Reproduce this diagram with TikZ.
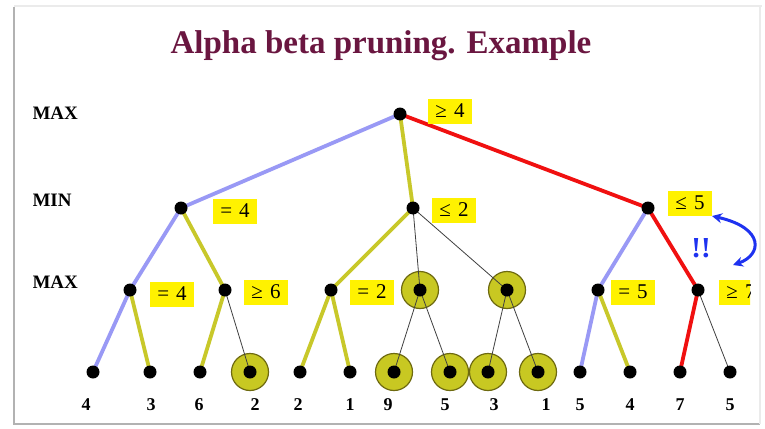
\documentclass[tikz,border=0pt]{standalone}
\usepackage{fontspec}
\setmainfont{Liberation Serif}
\usetikzlibrary{arrows.meta}
\definecolor{eblue}{HTML}{9999F5}
\definecolor{eyel}{HTML}{C8C82A}
\definecolor{ered}{HTML}{F01010}
\definecolor{ringfill}{HTML}{C8C822}
\definecolor{ringdraw}{HTML}{6E6A10}
\definecolor{titlecol}{HTML}{6A1640}
\definecolor{arrblue}{HTML}{1E32F0}
\pgfdeclarelayer{back}
\pgfdeclarelayer{rings}
\pgfdeclarelayer{edges}
\pgfsetlayers{back,rings,edges,main}
\tikzset{
  dot/.style={circle,fill=black,inner sep=0pt,minimum size=13pt},
  ring/.style={circle,fill=ringfill,draw=ringdraw,line width=1.2pt,inner sep=0pt,minimum size=37pt},
  valbox/.style={fill=yellow,inner xsep=5pt,inner ysep=0pt,minimum height=25pt,minimum width=44pt,font=\fontsize{21}{21}\selectfont},
  lvl/.style={anchor=west,font=\fontsize{19}{19}\selectfont\bfseries},
  leafnum/.style={font=\fontsize{18}{18}\selectfont\bfseries},
  be/.style={draw=eblue,line width=3.8pt},
  ye/.style={draw=eyel,line width=3.8pt},
  re/.style={draw=ered,line width=3.8pt},
  te/.style={draw=black!75,line width=0.8pt}
}
\begin{document}
\begin{tikzpicture}[x=1pt,y=-1pt]
\useasboundingbox (0,0) rectangle (765,428);
% slide frame
\begin{pgfonlayer}{back}
\fill[white] (0,0) rectangle (765,428);
\draw[black!8,line width=2pt] (14,6) -- (762,6);
\draw[black!30,line width=2.5pt] (14,7) -- (14,424) -- (760,424);
\draw[black!8,line width=1.5pt] (760,7) -- (760,424);
\end{pgfonlayer}
% title
\node[font=\fontsize{33}{33}\selectfont\bfseries,text=titlecol] (title) at (381,46) {Alpha beta pruning. Example};
% level labels
\begin{scope}
\clip (33,0) rectangle (200,428);
\node[lvl] (lmax1) at (29,113) {MAX};
\node[lvl] (lmin) at (29,200) {MIN};
\node[lvl] (lmax2) at (29,282) {MAX};
\end{scope}
% internal nodes
\node[dot] (r) at (400,114) {};
\node[dot] (a) at (181,208) {};
\node[dot] (b) at (413,208) {};
\node[dot] (c) at (648,208) {};
\node[dot] (a1) at (130,290) {};
\node[dot] (a2) at (225,290) {};
\node[dot] (b1) at (331,290) {};
\node[dot] (b2) at (420,290) {};
\node[dot] (b3) at (507,290) {};
\node[dot] (c1) at (598,290) {};
\node[dot] (c2) at (698,290) {};
% leaves
\node[dot] (l1) at (93,372) {};
\node[dot] (l2) at (150,372) {};
\node[dot] (l3) at (200,372) {};
\node[dot] (l4) at (250,372) {};
\node[dot] (l5) at (300,372) {};
\node[dot] (l6) at (350,372) {};
\node[dot] (l7) at (394,372) {};
\node[dot] (l8) at (450,372) {};
\node[dot] (l9) at (488,372) {};
\node[dot] (l10) at (538,372) {};
\node[dot] (l11) at (580,372) {};
\node[dot] (l12) at (630,372) {};
\node[dot] (l13) at (680,372) {};
\node[dot] (l14) at (730,372) {};
% rings
\begin{pgfonlayer}{rings}
\node[ring] (rb2) at (b2) {};
\node[ring] (rb3) at (b3) {};
\node[ring] (rl4) at (l4) {};
\node[ring] (rl7) at (l7) {};
\node[ring] (rl8) at (l8) {};
\node[ring] (rl9) at (l9) {};
\node[ring] (rl10) at (l10) {};
\end{pgfonlayer}
% edges
\begin{pgfonlayer}{edges}
\path[be] (r.center) -- (a.center);
\path[ye] (r.center) -- (b.center);
\path[re] (r.center) -- (c.center);
\path[be] (a.center) -- (a1.center);
\path[ye] (a.center) -- (a2.center);
\path[be] (a1.center) -- (l1.center);
\path[ye] (a1.center) -- (l2.center);
\path[ye] (a2.center) -- (l3.center);
\path[te] (a2.center) -- (l4.center);
\path[ye] (b.center) -- (b1.center);
\path[te] (b.center) -- (b2.center);
\path[te] (b.center) -- (b3.center);
\path[ye] (b1.center) -- (l5.center);
\path[ye] (b1.center) -- (l6.center);
\path[te] (b2.center) -- (l7.center);
\path[te] (b2.center) -- (l8.center);
\path[te] (b3.center) -- (l9.center);
\path[te] (b3.center) -- (l10.center);
\path[be] (c.center) -- (c1.center);
\path[re] (c.center) -- (c2.center);
\path[be] (c1.center) -- (l11.center);
\path[ye] (c1.center) -- (l12.center);
\path[re] (c2.center) -- (l13.center);
\path[te] (c2.center) -- (l14.center);
\end{pgfonlayer}
% value boxes
\node[valbox] (vr) at (450,111) {≥\,\,4};
\node[valbox] (va) at (235,211) {=\,\,4};
\node[valbox] (vb) at (454,210) {≤\,\,2};
\node[valbox] (vc) at (690,203) {≤\,\,5};
\node[valbox] (va1) at (172,294) {=\,\,4};
\node[valbox] (va2) at (266,292) {≥\,\,6};
\node[valbox] (vb1) at (372,292) {=\,\,2};
\node[valbox] (vc1) at (633,292) {=\,\,5};
\begin{scope}
\clip (700,270) rectangle (750,320);
\node[valbox] (vc2) at (741,292) {≥\,\,7};
\end{scope}
% blue arrow and !!
\coordinate (as) at (712,216);
\coordinate (ae) at (733,265);
\draw[arrblue,line width=3pt,{Stealth[length=10pt,width=10pt]}-{Stealth[length=10pt,width=10pt]}] (as) .. controls (765,228) and (762,255) .. (ae);
\node[text=arrblue,font=\fontsize{29}{29}\selectfont\bfseries] (ex) at (701,248) {!!};
% leaf numbers
\node[leafnum] (n1) at (86,405) {4};
\node[leafnum] (n2) at (151,405) {3};
\node[leafnum] (n3) at (199,405) {6};
\node[leafnum] (n4) at (255,405) {2};
\node[leafnum] (n5) at (298,405) {2};
\node[leafnum] (n6) at (350,405) {1};
\node[leafnum] (n7) at (388,405) {9};
\node[leafnum] (n8) at (445,405) {5};
\node[leafnum] (n9) at (494,405) {3};
\node[leafnum] (n10) at (546,405) {1};
\node[leafnum] (n11) at (580,405) {5};
\node[leafnum] (n12) at (630,405) {4};
\node[leafnum] (n13) at (680,405) {7};
\node[leafnum] (n14) at (730,405) {5};
\end{tikzpicture}
\end{document}
